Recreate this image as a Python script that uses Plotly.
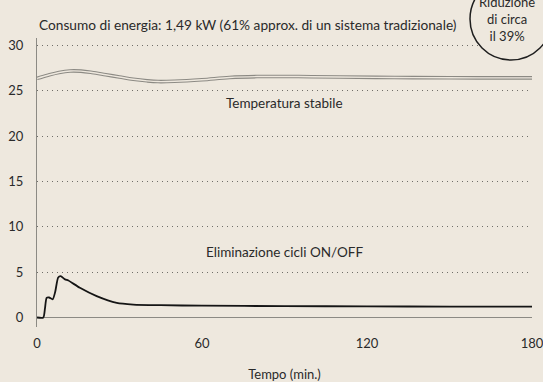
import plotly.graph_objects as go

# Temperatura ambiente (°C) nel tempo
temp_t = [0, 4, 8, 12, 16, 20, 25, 30, 35, 40, 44, 50, 60, 70, 80, 95, 110, 130, 150, 165, 180]
temp_v = [26.35, 26.7, 27.0, 27.17, 27.15, 27.0, 26.75, 26.5, 26.25, 26.08, 26.0, 26.03, 26.2, 26.45, 26.55, 26.55, 26.5, 26.45, 26.42, 26.4, 26.4]

# Consumo di energia (kW) nel tempo
pow_t = [0, 2.3, 2.9, 3.5, 4.4, 5.7, 6.6, 7.7, 8.6, 10.2, 11.4, 15.6, 21.7, 29, 35, 45, 60, 90, 120, 150, 180]
pow_v = [0, 0, 1.0, 2.15, 2.2, 2.0, 2.8, 4.4, 4.55, 4.2, 4.07, 3.27, 2.35, 1.6, 1.42, 1.35, 1.3, 1.25, 1.22, 1.2, 1.2]

x_ticks = [0, 60, 120, 180]
y_ticks = [0, 5, 10, 15, 20, 25, 30]

BG = "#EEE8DE"
TXT = "#2a2a2a"
GRAY = "#8c8a84"
FONT = "Lato"

fig = go.Figure()

# doppia linea della temperatura: contorno grigio + anima chiara
fig.add_trace(go.Scatter(x=temp_t, y=temp_v, mode="lines", line=dict(color=GRAY, width=3.6, shape="spline"),
                         hoverinfo="skip", showlegend=False))
fig.add_trace(go.Scatter(x=temp_t, y=temp_v, mode="lines", line=dict(color=BG, width=1.4, shape="spline"),
                         hoverinfo="skip", showlegend=False))

fig.add_trace(go.Scatter(x=pow_t, y=pow_v, mode="lines", line=dict(color="#151515", width=1.8, shape="spline", smoothing=0.6),
                         showlegend=False))

fig.update_layout(
    width=543, height=382,
    margin=dict(l=37, r=11, t=38, b=55, autoexpand=False),
    paper_bgcolor=BG, plot_bgcolor=BG,
    font=dict(family=FONT, size=13, color=TXT),
    xaxis=dict(range=[0, 180], tickvals=x_ticks, showgrid=False, zeroline=False,
               showline=False, ticks="", ticklabelstandoff=7, ticklabeloverflow="allow",
               title=dict(text="Tempo (min.)", standoff=21, font=dict(size=13))),
    yaxis=dict(range=[-1.05, 30.8], tickvals=y_ticks, showgrid=True, gridcolor="#6f6d68",
               griddash="1px,4px", gridwidth=1, zeroline=True, zerolinecolor=GRAY, zerolinewidth=1.2,
               showline=True, linecolor=GRAY, linewidth=1.2, ticks="", ticklabelstandoff=10),
)

fig.add_annotation(x=0, y=1.0, xref="x", yref="paper", yshift=3, text="Consumo di energia: 1,49 kW (61% approx. di un sistema tradizionale)",
                   showarrow=False, xanchor="left", yanchor="bottom", font=dict(size=13.7))
fig.add_annotation(x=90, y=23.6, text="Temperatura stabile", showarrow=False, font=dict(size=13.5))
fig.add_annotation(x=90, y=7.2, text="Eliminazione cicli ON/OFF", showarrow=False, font=dict(size=13.5))

# cerchio con la riduzione percentuale
fig.add_shape(type="circle", xref="paper", yref="paper",
              x0=(470 - 37) / 495, x1=(552 - 37) / 495, y0=(327 - 60) / 289, y1=(327 + 22) / 289,
              line=dict(color="#1e1e1e", width=1.5), fillcolor=BG, layer="above")
fig.add_annotation(x=(507 - 37) / 495, y=(327 - 19) / 289, xref="paper", yref="paper",
                   text="Riduzione<br>di circa<br>il 39%", showarrow=False, align="center",
                   font=dict(size=13), xanchor="center", yanchor="middle")

fig.write_html("out.html")
